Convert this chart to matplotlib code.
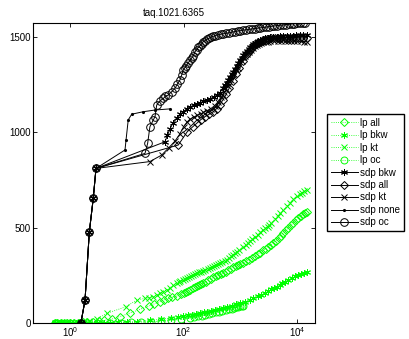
import numpy as np
import matplotlib
matplotlib.use("Agg")
import matplotlib.pyplot as plt
import matplotlib as mpl

mpl.rcParams.update({
    "font.family": "Liberation Sans",
    "font.size": 7,
    "mathtext.fontset": "custom",
    "mathtext.rm": "Liberation Sans",
    "mathtext.it": "Liberation Sans:italic",
})

TITLE = "taq.1021.6365"
GREEN = "#00ff00"

# ---- lp series (green, dotted) ----
lp_all_x = [0.54, 0.6, 0.7, 0.8, 0.9, 1.0, 1.2, 1.4, 1.7, 2.0, 2.5, 3.2, 4.0, 5.5, 7.5,
            11.4, 17, 24.6, 30, 38.4, 45, 53.8, 63, 75.6, 90, 100, 110, 120, 130, 145,
            160, 175, 190, 205, 222, 245, 270, 300, 330, 365, 400, 450, 500, 550, 600,
            670, 750, 820, 900, 1000, 1125, 1250, 1400, 1600, 1800, 2000, 2200, 2530,
            2800, 3100, 3450, 3800, 4200, 4700, 5200, 5690, 6300, 7000, 7700, 8500,
            9500, 10500, 11500, 12500, 13600, 14700]
lp_all_y = [0, 0, 0, 0, 0, 0, 1, 1, 2, 3, 5, 8, 12, 20, 32,
            51, 70, 88, 98, 110, 120, 128, 134, 140, 150, 155, 161, 166, 171, 180,
            188, 193, 198, 203, 207, 215, 222, 230, 238, 244, 250, 256, 262, 269, 276,
            284, 292, 298, 303, 308, 314, 322, 330, 340, 350, 359, 368, 380,
            390, 400, 410, 420, 432, 445, 457, 470, 485, 500, 512, 525,
            538, 550, 560, 570, 577, 584]

lp_bkw_x = [0.54, 0.6, 0.7, 0.8, 1.0, 1.3, 1.7, 2.2, 3.0, 4.0, 5.0, 7.0, 10, 15, 25.6,
            40, 60, 80, 98.8, 120, 140, 165, 194, 225, 260, 300, 350, 420, 500, 590,
            700, 830, 1000, 1200, 1475, 1700, 2000, 2300, 2700, 3100, 3500, 3900, 4355,
            4900, 5500, 6200, 7000, 8000, 9000, 10200, 11500, 13000, 14700]
lp_bkw_y = [0, 0, 0, 0, 0, 0, 0, 0, 0, 1, 1, 2, 3, 6, 12,
            18, 25, 30, 35, 38, 42, 45, 49, 54, 58, 63, 68, 72, 76, 83,
            90, 96, 103, 110, 119, 128, 138, 148, 158, 167, 175, 182, 189,
            199, 208, 216, 225, 234, 243, 250, 256, 262, 268]

lp_kt_x = [0.54, 0.6, 0.7, 0.85, 1.0, 1.3, 1.7, 2.2, 3.0, 4.43, 9.68, 14.9, 20.9, 25,
           29.3, 34, 38.4, 44, 50.4, 58, 66, 75.6, 82, 88, 96, 105, 115, 125, 136, 148,
           160, 175, 187, 200, 220, 240, 265, 292, 320, 340, 370, 400, 440, 480, 525,
           574, 625, 680, 740, 800, 870, 950, 1125, 1250, 1350, 1470, 1600, 1800, 2000,
           2250, 2530, 2750, 3000, 3250, 3500, 4000, 4500, 5050, 5690, 6500, 7500,
           8600, 10000, 11000, 12000, 13300, 14700]
lp_kt_y = [0, 0, 0, 0, 1, 2, 4, 8, 20, 49, 84, 119, 128, 132,
           137, 146, 155, 163, 172, 185, 196, 207, 212, 218, 224, 230, 236, 242, 247, 251,
           256, 262, 265, 268, 273, 278, 282, 286, 291, 296, 302, 308, 314, 320, 326,
           332, 340, 348, 356, 365, 373, 382, 400, 411, 420, 430, 440, 451, 462,
           475, 487, 496, 505, 515, 525, 543, 560, 576, 592, 612, 630,
           648, 665, 675, 682, 690, 697]

lp_oc_x = [0.54, 0.6, 0.7, 0.85, 1.0, 1.5, 2.0, 3.0, 5.0, 8.0, 12, 18, 27, 40, 60, 90,
           130, 155, 180, 210, 240, 280, 320, 370, 420, 480, 550, 620, 700, 780, 850,
           920, 1000, 1060, 1125]
lp_oc_y = [0, 0, 0, 0, 0, 0, 0, 0, 0, 1, 2, 3, 5, 8, 12, 18,
           25, 29, 33, 37, 41, 46, 50, 54, 58, 62, 66, 70, 74, 78, 81,
           84, 86, 88, 90]

# ---- sdp series (black, solid) ----
knee_x = [1.56, 1.84, 2.19, 2.57, 2.87]
knee_y = [0, 119, 477, 655, 811]

sdp_bkw_x = knee_x + [47, 52, 58, 65, 75, 87, 99, 115, 130, 150, 170, 195, 222, 255, 292,
                      340, 390, 437, 500, 535, 570, 610, 656, 700, 750, 800, 860, 920,
                      984, 1050, 1120, 1200, 1290, 1400, 1475, 1580, 1700, 1820, 1950,
                      2080, 2213, 2450, 2700, 3000, 3300, 3800, 4355, 5000, 5700, 6500,
                      7400, 8400, 9600, 11000, 12700, 14700]
sdp_bkw_y = knee_y + [951, 985, 1020, 1050, 1075, 1095, 1110, 1125, 1135, 1142, 1150, 1157,
                      1163, 1170, 1177, 1187, 1197, 1210, 1235, 1248, 1262, 1276, 1290,
                      1305, 1320, 1336, 1352, 1366, 1380, 1393, 1405, 1417, 1428, 1438,
                      1447, 1455, 1465, 1472, 1478, 1483, 1487, 1491, 1495, 1498, 1500,
                      1502, 1504, 1505, 1506, 1507, 1508, 1509, 1510, 1511, 1511, 1512]

sdp_all_x = knee_x + [80.6, 116, 145, 170, 200, 238, 285, 334, 380, 430, 490, 560, 640, 730,
                      830, 950, 1090, 1250, 1350, 1450, 1570, 1700, 1850, 2000, 2200, 2400,
                      2650, 2900, 3200, 3500, 4000, 4500, 5200, 6000, 7000, 8000, 9400,
                      11000, 12800, 14700]
sdp_all_y = knee_y + [934, 1004, 1030, 1048, 1067, 1083, 1097, 1109, 1125, 1145, 1170, 1200,
                      1235, 1270, 1305, 1340, 1375, 1405, 1420, 1432, 1444, 1455, 1464,
                      1472, 1478, 1483, 1487, 1490, 1492, 1494, 1496, 1497, 1497, 1498,
                      1498, 1498, 1497, 1497, 1496, 1496]

sdp_kt_x = knee_x + [25.5, 41, 55, 70.6, 85, 100, 115, 130, 150, 175, 200, 222, 260, 300,
                     350, 400, 460, 520, 600, 680, 780, 900, 1050, 1200, 1300, 1400, 1520,
                     1650, 1780, 1930, 2100, 2300, 2550, 2800, 3050, 3350, 3900, 4500,
                     5200, 6000, 6800, 7700, 8800, 10000, 11500, 13000, 14700]
sdp_kt_y = knee_y + [847, 881, 920, 955, 990, 1030, 1055, 1070, 1080, 1090, 1098, 1105,
                     1115, 1125, 1140, 1160, 1185, 1212, 1245, 1275, 1305, 1340, 1375,
                     1400, 1413, 1425, 1436, 1445, 1453, 1460, 1465, 1470, 1473, 1476,
                     1478, 1480, 1481, 1482, 1482, 1482, 1481, 1481, 1480, 1480, 1479,
                     1478, 1478]

sdp_none_x = knee_x + [9.3, 9.7, 10.6, 12.2, 19.5, 31.4, 57.6]
sdp_none_y = knee_y + [908, 961, 1066, 1096, 1109, 1118, 1124]

sdp_oc_x = knee_x + [20.9, 23.3, 25.5, 29.2, 31.4, 33.6, 38, 44, 48, 53.8, 62, 70.6, 78,
                     86.4, 92, 98.8, 105, 112, 120, 130, 138, 147, 159, 170, 182, 195,
                     208, 222, 240, 260, 280, 300, 330, 360, 400, 450, 500, 560, 630,
                     700, 790, 890, 1000, 1125, 1260, 1410, 1580, 1780, 2000, 2240, 2510,
                     2820, 3160, 3550, 3980, 4470, 5010, 5620, 6310, 7080, 7940, 8910,
                     10000, 11200, 12500, 13700]
sdp_oc_y = knee_y + [890, 943, 1030, 1065, 1083, 1144, 1165, 1179, 1190, 1197, 1215, 1232,
                     1255, 1276, 1300, 1328, 1340, 1352, 1365, 1380, 1390, 1402, 1424,
                     1436, 1447, 1456, 1466, 1477, 1483, 1490, 1495, 1500, 1505, 1509,
                     1513, 1516, 1519, 1521, 1524, 1527, 1530, 1533, 1535, 1538, 1540,
                     1542, 1544, 1546, 1548, 1550, 1552, 1554, 1556, 1558, 1560, 1562,
                     1564, 1565, 1567, 1569, 1570, 1572, 1573, 1575, 1576, 1577]

ASTER = (6, 2, 0)

fig = plt.figure(figsize=(4.09, 3.39), dpi=100)
ax = fig.add_axes([33.3 / 409, 1 - 322.7 / 339, (315 - 33.3) / 409, (322.7 - 22.7) / 339])

lw_g = 0.6
ax.plot(lp_all_x, lp_all_y, ls=":", lw=lw_g, color=GREEN, marker="D", ms=4,
        mfc="none", mew=0.7, label="lp all")
ax.plot(lp_bkw_x, lp_bkw_y, ls=":", lw=lw_g, color=GREEN, marker=ASTER, ms=5,
        mew=0.7, label="lp bkw")
ax.plot(lp_kt_x, lp_kt_y, ls=":", lw=lw_g, color=GREEN, marker="x", ms=4,
        mew=0.7, label="lp kt")
ax.plot(lp_oc_x, lp_oc_y, ls=":", lw=lw_g, color=GREEN, marker="o", ms=5,
        mfc="none", mew=0.7, label="lp oc")

lw_k = 0.7
ax.plot(sdp_bkw_x, sdp_bkw_y, "-", lw=lw_k, color="k", marker=ASTER, ms=5,
        mew=0.7, label="sdp bkw")
ax.plot(sdp_all_x, sdp_all_y, "-", lw=lw_k, color="k", marker="D", ms=4,
        mfc="none", mew=0.7, label="sdp all")
ax.plot(sdp_kt_x, sdp_kt_y, "-", lw=lw_k, color="k", marker="x", ms=4,
        mew=0.7, label="sdp kt")
ax.plot(sdp_none_x, sdp_none_y, "-", lw=lw_k, color="k", marker=".", ms=2.5,
        label="sdp none")
ax.plot(sdp_oc_x, sdp_oc_y, "-", lw=lw_k, color="k", marker="o", ms=5.5,
        mfc="none", mew=0.7, label="sdp oc")

ax.set_xscale("log")
ax.set_xlim(0.226, 20570)
ax.set_ylim(0, 1577)
ax.set_xticks([1, 100, 10000])
ax.set_xticklabels([r"$\mathregular{10^{0}}$", r"$\mathregular{10^{2}}$",
                    r"$\mathregular{10^{4}}$"])
ax.xaxis.set_minor_locator(mpl.ticker.NullLocator())
ax.set_yticks([0, 500, 1000, 1500])
ax.tick_params(direction="in", top=True, right=True, length=3, width=0.6,
               labelsize=7, pad=2)
for s in ax.spines.values():
    s.set_linewidth(0.8)

ax.set_title(TITLE, fontsize=7, pad=5)

fig.legend(loc="upper left", bbox_to_anchor=(326.7 / 409, 1 - 114 / 339),
           borderaxespad=0, fontsize=7, frameon=True, fancybox=False,
           edgecolor="k", framealpha=1, handlelength=2.8, handletextpad=0.2,
           labelspacing=0.25, borderpad=0.4, numpoints=1)

fig.savefig("out.png", dpi=100)
